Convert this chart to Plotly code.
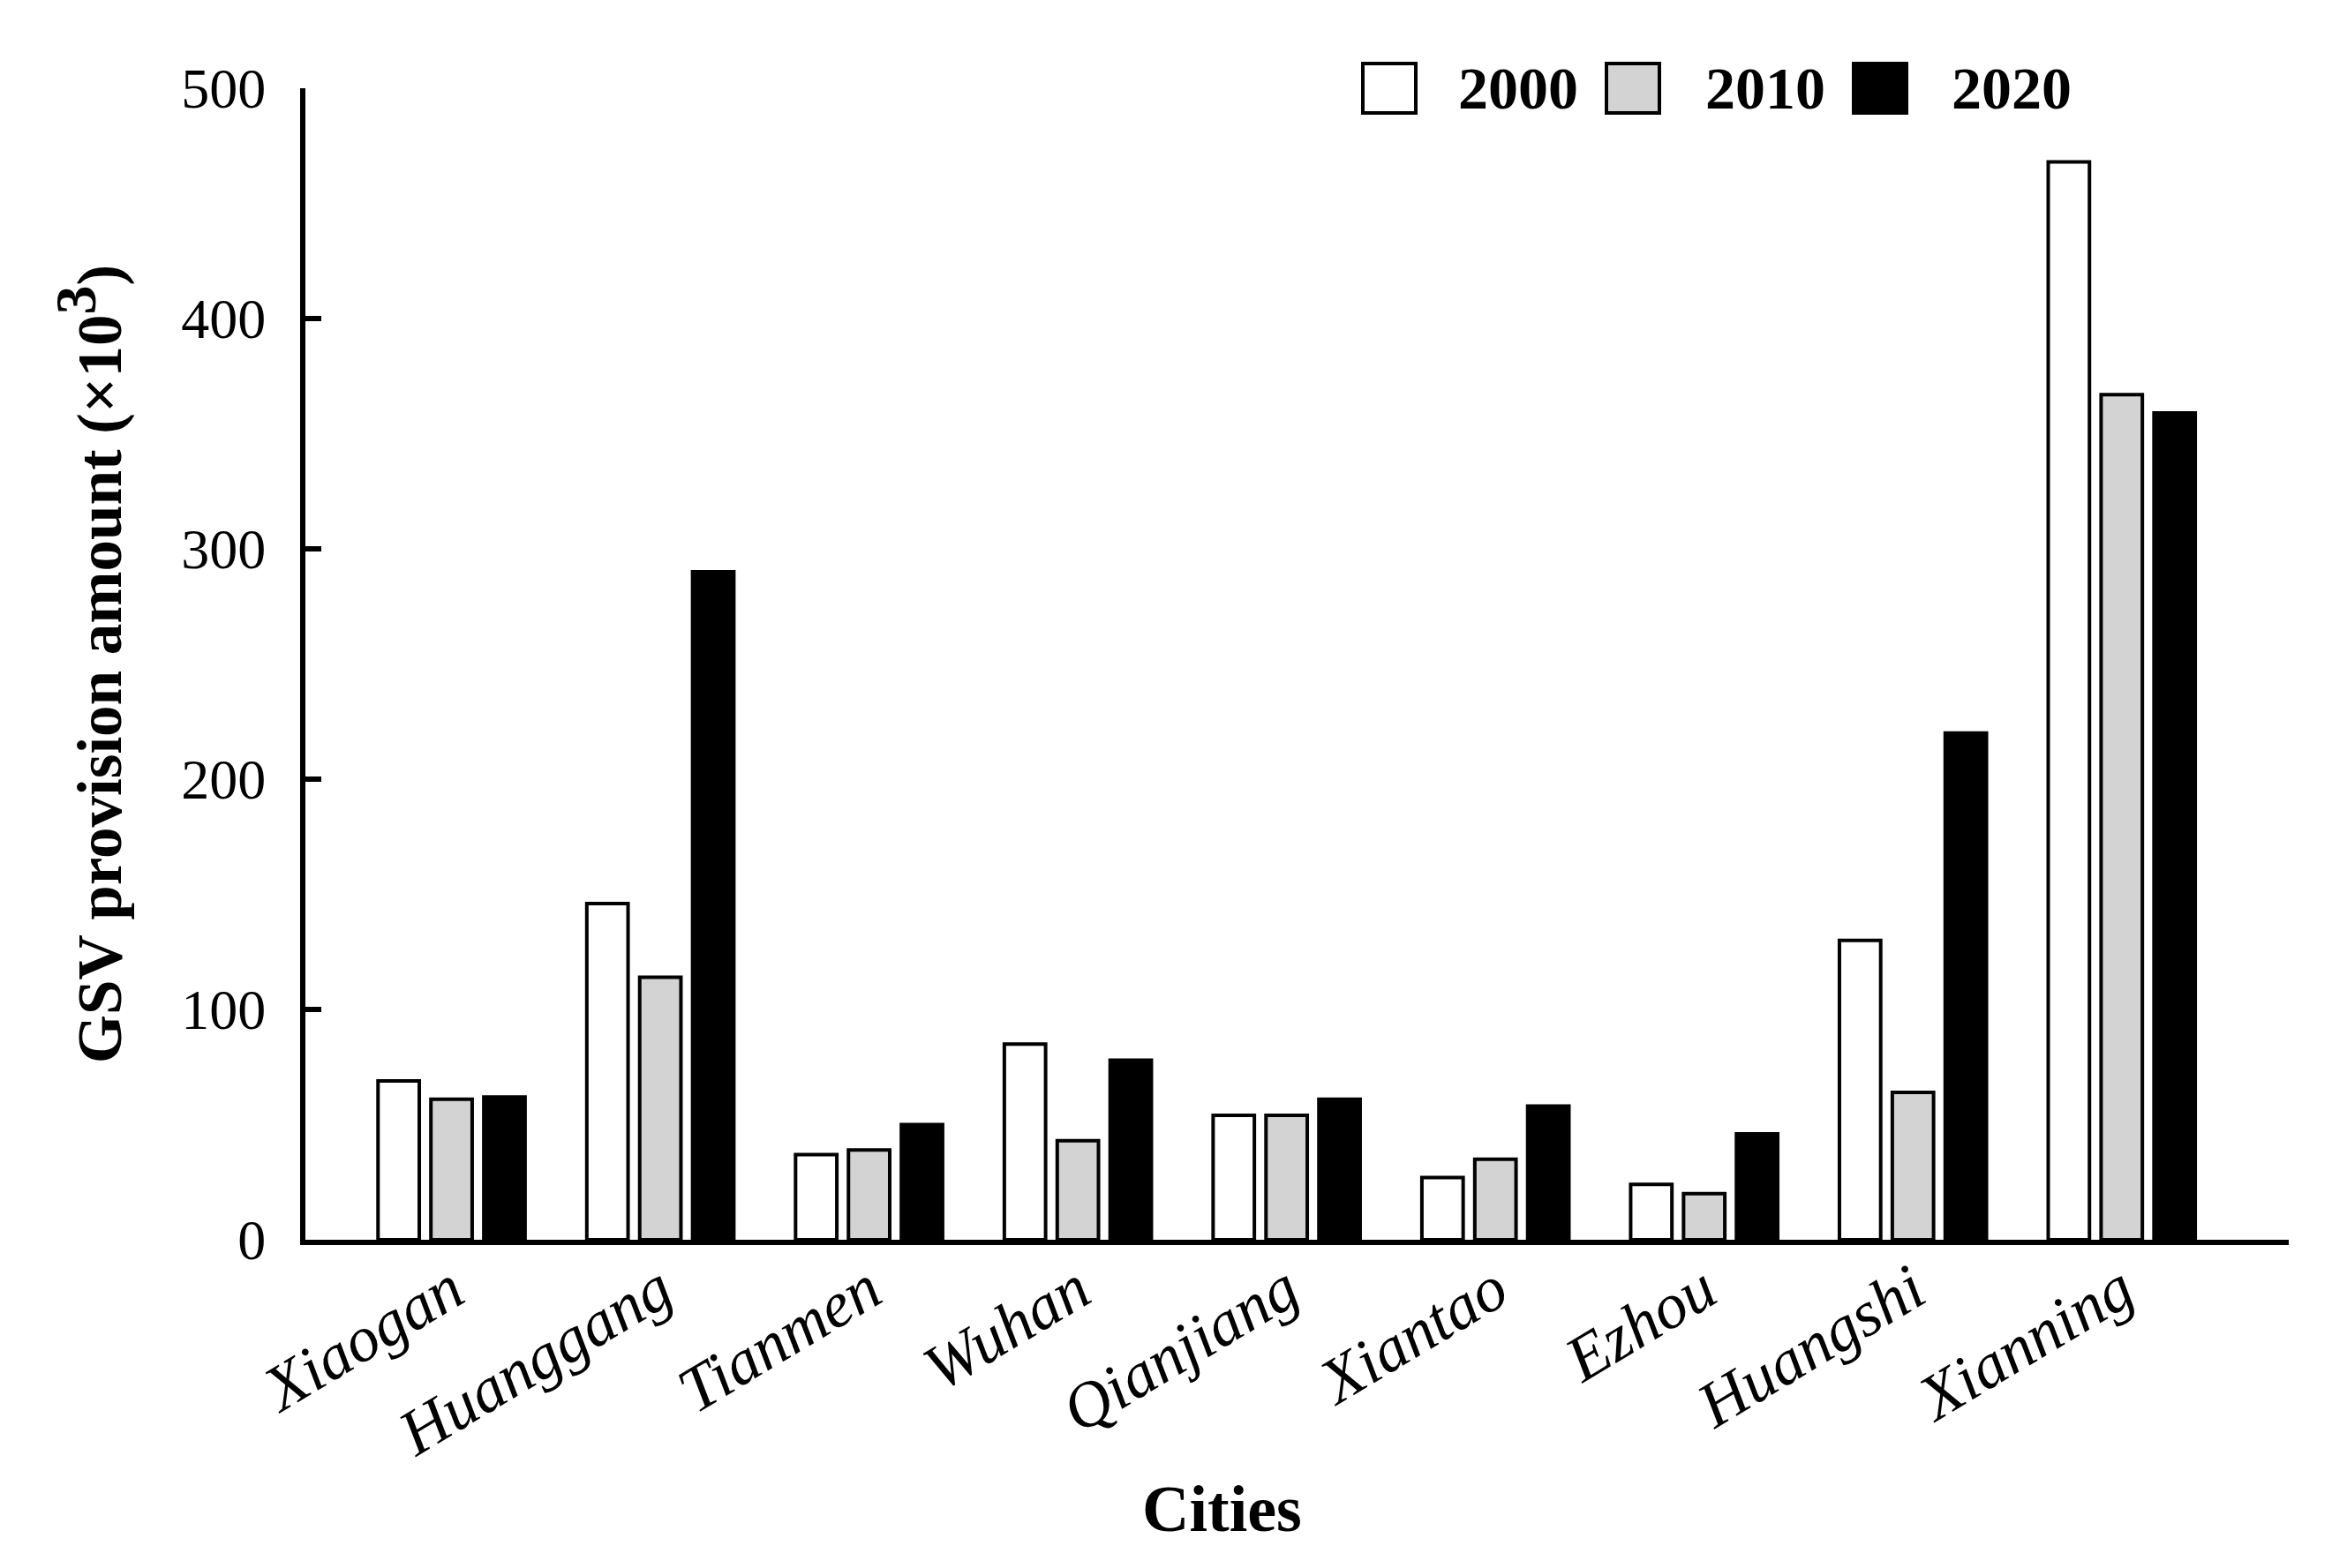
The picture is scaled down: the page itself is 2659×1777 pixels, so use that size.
import plotly.graph_objects as go

cities = ["Xiaogan", "Huanggang", "Tianmen", "Wuhan", "Qianjiang",
          "Xiantao", "Ezhou", "Huangshi", "Xianning"]
years = ["2000", "2010", "2020"]
v2000 = [69, 146, 37, 85, 54, 27, 24, 130, 468]
v2010 = [61, 114, 39, 43, 54, 35, 20, 64, 367]
v2020 = [62, 290, 50, 78, 61, 58, 46, 220, 359]
series = [v2000, v2010, v2020]
colors = ["#ffffff", "#d3d3d3", "#000000"]
y_ticks = [0, 100, 200, 300, 400, 500]

# page body has an 8px margin; figure is sized to fit inside the window
OFF = 8
W, H = 2659 - 2 * OFF, 1777 - 2 * OFF
# target plot area in window pixels
PL, PR, PT, PB = 346, 2593, 100, 1405
L, T = PL - OFF, PT - OFF
R = W - (PR - OFF)
B = H - (PB - OFF)
pw, ph = PR - PL, PB - PT

FONT = "Liberation Serif"

fig = go.Figure()
for name, vals, col in zip(years, series, colors):
    fig.add_trace(go.Bar(
        x=cities, y=vals, name=name,
        marker=dict(color=col, line=dict(color="black", width=4)),
        showlegend=False,
    ))

def px_x(p):
    return (p - PL) / pw

def px_y(p):
    return (PB - p) / ph

# manual legend (large boxes like the reference)
legend_box_left = [1544, 1820, 2100]
legend_text_left = [1650, 1930, 2209]
for name, col, bx, tx in zip(years, colors, legend_box_left, legend_text_left):
    fig.add_shape(type="rect", xref="paper", yref="paper",
                  x0=px_x(bx), x1=px_x(bx + 60), y0=px_y(128), y1=px_y(72),
                  fillcolor=col, line=dict(color="black", width=4))
    fig.add_annotation(text=f"<b>{name}</b>", xref="paper", yref="paper",
                       x=px_x(tx), y=px_y(100), xanchor="left", yanchor="middle",
                       showarrow=False, font=dict(family=FONT, size=68, color="black"))

fig.add_annotation(text="<b>Cities</b>", xref="paper", yref="paper",
                   x=px_x(1384), y=px_y(1710), xanchor="center", yanchor="middle",
                   showarrow=False, font=dict(family=FONT, size=74, color="black"))

fig.update_layout(
    width=W, height=H,
    margin=dict(l=L, r=R, t=T, b=B),
    paper_bgcolor="white", plot_bgcolor="white",
    barmode="group", bargap=0.24, bargroupgap=0.22,
    font=dict(family=FONT, color="black"),
)
fig.update_xaxes(
    range=[-0.7, 8.8], showline=True, linecolor="black", linewidth=6,
    ticks="", tickangle=-31, tickfont=dict(family=FONT, size=73, style="italic"),
    ticklabelstandoff=-20, showgrid=False, zeroline=False,
)
fig.update_yaxes(
    range=[0, 500], tickvals=y_ticks, showline=True, linecolor="black", linewidth=6,
    ticks="inside", ticklen=18, tickwidth=6, tickcolor="black",
    tickfont=dict(family=FONT, size=64), ticklabelstandoff=26,
    showgrid=False, zeroline=False,
    title=dict(text="<b>GSV provision amount (×10<sup><span style='font-size:66px'>3</span></sup>)</b>",
               font=dict(family=FONT, size=71), standoff=46),
)

fig.write_html("out.html")
